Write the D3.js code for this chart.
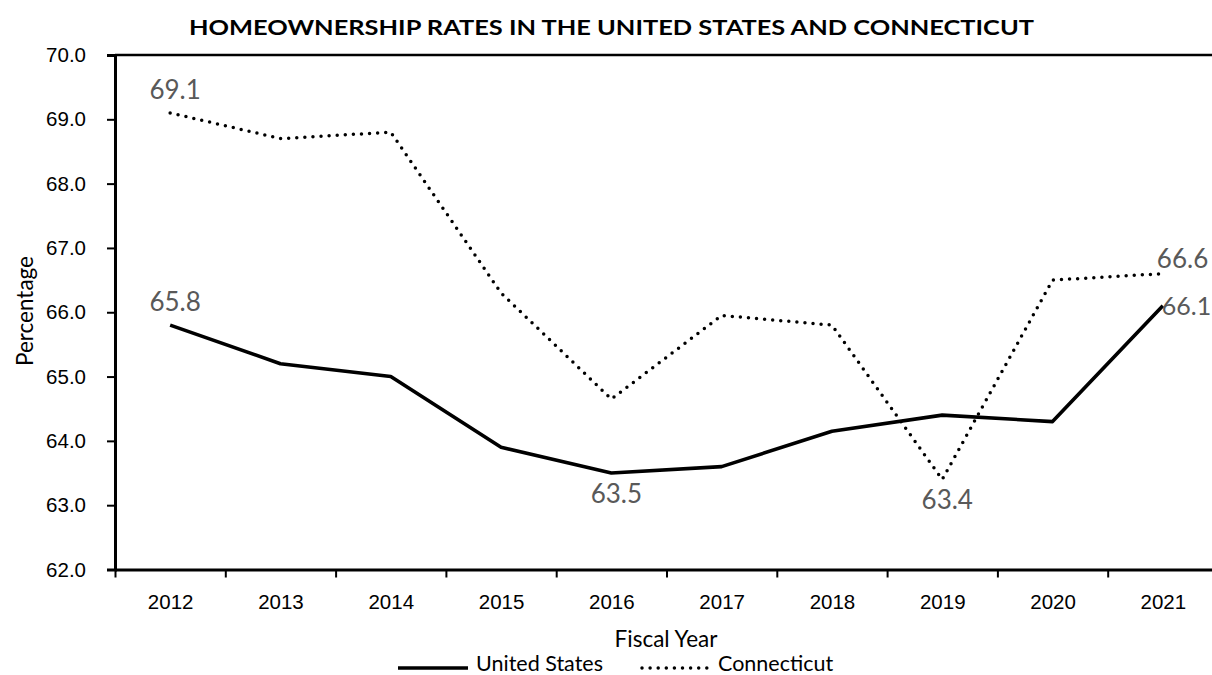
<!DOCTYPE html>
<html>
<head>
<meta charset="utf-8">
<script src="https://cdn.jsdelivr.net/npm/d3@7"></script>
<style>
  html, body { margin: 0; padding: 0; background: #fff; }
  svg { display: block; font-family: Lato, "Open Sans", sans-serif; }
</style>
</head>
<body>
<svg id="chart" width="1212" height="675"></svg>
<script>
// Fiscal years and homeownership rates (%)
const years = ["2012", "2013", "2014", "2015", "2016", "2017", "2018", "2019", "2020", "2021"];
const unitedStates = [65.8, 65.2, 65.0, 63.9, 63.5, 63.6, 64.15, 64.4, 64.3, 66.1];
const connecticut  = [69.1, 68.7, 68.8, 66.3, 64.65, 65.95, 65.8, 63.4, 66.5, 66.6];
const yTicks = [62, 63, 64, 65, 66, 67, 68, 69, 70];

// Which points carry a value label, and where it sits
const usLabels = [
  { i: 0, pos: "above" }, { i: 4, pos: "below" }, { i: 9, pos: "right" }
];
const ctLabels = [
  { i: 0, pos: "above" }, { i: 7, pos: "below" }, { i: 9, pos: "rightAbove" }
];

const svg = d3.select("#chart");
const plotLeft = 115, plotRight = 1218, plotTop = 55, plotBottom = 569.5;

const x = d3.scalePoint().domain(years).range([plotLeft, plotRight]).padding(0.5);
const xEdge = d3.scaleLinear().domain([0, years.length]).range([plotLeft, plotRight]);
const y = d3.scaleLinear().domain([62, 70]).range([plotBottom, plotTop]);

// Plot-area top border
svg.append("line")
  .attr("x1", plotLeft).attr("x2", plotRight)
  .attr("y1", y(70)).attr("y2", y(70))
  .attr("stroke", "#000").attr("stroke-width", 2.5);

// Y axis
const yAxis = svg.append("g")
  .attr("transform", `translate(${plotLeft},0)`)
  .call(d3.axisLeft(y).tickValues(yTicks).tickFormat(d3.format(".1f")).tickSize(8).tickPadding(21));
yAxis.select(".domain").attr("stroke-width", 3);
yAxis.selectAll(".tick line").attr("stroke-width", 2);
yAxis.selectAll(".tick text").attr("font-size", 20.5).attr("fill", "#000");

// X axis: tick marks on category boundaries, labels on centres
const xTickAxis = svg.append("g")
  .attr("transform", `translate(0,${plotBottom})`)
  .call(d3.axisBottom(xEdge).tickValues(d3.range(0, years.length + 1)).tickFormat("").tickSize(8).tickSizeOuter(0));
xTickAxis.select(".domain").attr("stroke-width", 3);
xTickAxis.selectAll(".tick line").attr("stroke-width", 2);

const xLabelAxis = svg.append("g")
  .attr("transform", `translate(0,${plotBottom})`)
  .call(d3.axisBottom(x).tickSize(0).tickPadding(25));
xLabelAxis.select(".domain").remove();
xLabelAxis.selectAll(".tick text").attr("font-size", 20.5).attr("fill", "#000");

// Series lines
const line = d3.line().x((d, i) => x(years[i])).y(d => y(d));

svg.append("path")
  .datum(unitedStates)
  .attr("d", line)
  .attr("fill", "none")
  .attr("stroke", "#000")
  .attr("stroke-width", 3.6)
  .attr("stroke-linejoin", "round");

svg.append("path")
  .datum(connecticut)
  .attr("d", line)
  .attr("fill", "none")
  .attr("stroke", "#000")
  .attr("stroke-width", 3.5)
  .attr("stroke-linecap", "round")
  .attr("stroke-dasharray", "0 8.1");

// Value labels
const fmt = d3.format(".1f");
function addLabels(values, specs) {
  specs.forEach(s => {
    const px = x(years[s.i]), py = y(values[s.i]);
    const t = svg.append("text")
      .attr("font-size", 26)
      .attr("fill", "#595959")
      .text(fmt(values[s.i]));
    if (s.pos === "above") {
      t.attr("x", px + 5).attr("y", py - 14).attr("text-anchor", "middle");
    } else if (s.pos === "below") {
      t.attr("x", px + 5).attr("y", py + 30).attr("text-anchor", "middle");
    } else if (s.pos === "rightAbove") {
      t.attr("x", px - 6).attr("y", py - 6).attr("text-anchor", "start");
    } else {
      // right-edge label kept inside the page
      t.attr("x", px - 1).attr("y", py + 9).attr("text-anchor", "start").attr("font-size", 25);
    }
  });
}
addLabels(connecticut, ctLabels);
addLabels(unitedStates, usLabels);

// Title
svg.append("text")
  .attr("x", 611.5).attr("y", 35)
  .attr("text-anchor", "middle")
  .attr("font-size", 20.5)
  .attr("font-weight", "bold")
  .attr("textLength", 845)
  .attr("lengthAdjust", "spacingAndGlyphs")
  .text("HOMEOWNERSHIP RATES IN THE UNITED STATES AND CONNECTICUT");

// Axis titles
svg.append("text")
  .attr("transform", `translate(33,311) rotate(-90)`)
  .attr("text-anchor", "middle")
  .attr("font-size", 22.5)
  .text("Percentage");

svg.append("text")
  .attr("x", 666).attr("y", 647)
  .attr("text-anchor", "middle")
  .attr("font-size", 22.5)
  .text("Fiscal Year");

// Legend
const legend = svg.append("g");
legend.append("line")
  .attr("x1", 398).attr("x2", 468).attr("y1", 668).attr("y2", 668)
  .attr("stroke", "#000").attr("stroke-width", 3.6);
legend.append("text")
  .attr("x", 476).attr("y", 671)
  .attr("font-size", 21.5)
  .text("United States");
legend.append("line")
  .attr("x1", 642).attr("x2", 713).attr("y1", 668).attr("y2", 668)
  .attr("stroke", "#000").attr("stroke-width", 3.5)
  .attr("stroke-linecap", "round").attr("stroke-dasharray", "0 8.1");
legend.append("text")
  .attr("x", 718).attr("y", 671)
  .attr("font-size", 21.5)
  .text("Connecticut");
</script>
</body>
</html>
